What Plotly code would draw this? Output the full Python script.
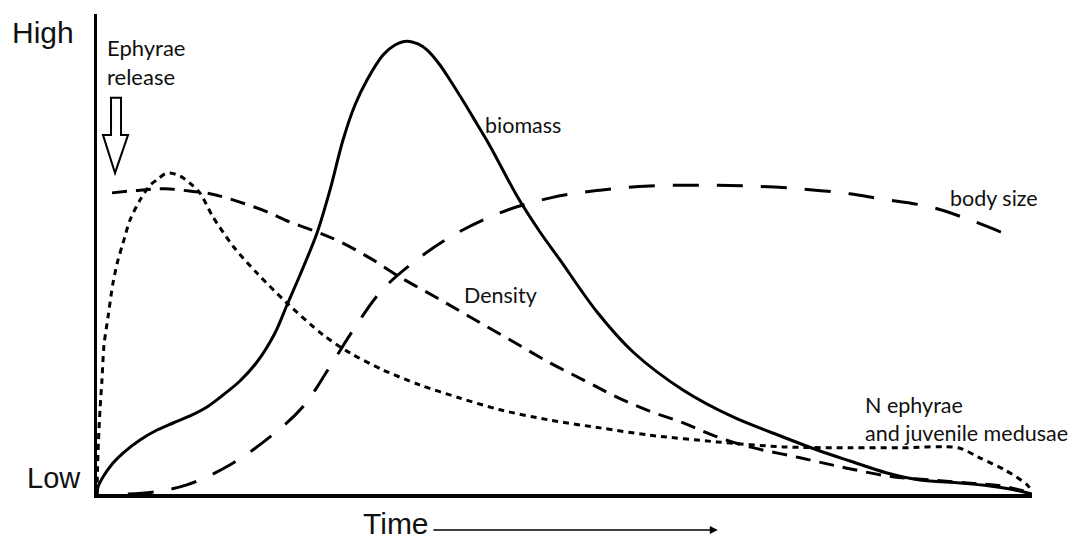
import plotly.graph_objects as go

# Time (0-100) and relative level (0 = Low, 100 = High)
biomass_t = [0, 0.11, 0.64, 1.71, 2.78, 4.6, 6.42, 8.13, 9.95, 11.76, 13.48, 15.29, 17.11, 19.04, 20.32, 21.71,
             23.53, 24.92, 26.31, 27.59, 28.88, 30.59, 31.87, 33.16, 34.33, 35.29, 36.68, 37.75, 39.36, 40.64,
             42.03, 44.92, 47.38, 49.52, 53.48, 57.33, 62.67, 68.02, 73.37, 77.33, 80.53, 84.49, 88.02, 92.3,
             95.51, 97.65, 100]
biomass_v = [0, 1.55, 3.75, 6.85, 9.05, 11.93, 14.13, 15.68, 17.23, 19.21, 21.86, 24.96, 29.15, 35.56, 41.74,
             48.37, 57.64, 67.14, 78.18, 85.91, 91.43, 96.95, 99.16, 100.0, 99.38, 98.06, 94.74, 91.43, 86.13,
             81.71, 76.86, 65.81, 57.86, 51.68, 40.19, 31.36, 22.97, 17.01, 12.59, 9.5, 7.29, 4.64, 3.09, 2.43,
             1.77, 1.1, 0]

bodysize_t = [3.3, 5.9, 9.6, 14.2, 18.5, 22.0, 24.9, 27.4, 30.3, 33.5, 37.8, 43.1, 48.5, 53.8, 59.1, 64.5,
              69.8, 75.2, 80.5, 83.7, 89.1, 93.4, 97.9]
bodysize_v = [0, 0.4, 2.0, 6.4, 12.6, 19.2, 28.1, 36.2, 44.6, 50.6, 56.8, 62.1, 65.4, 67.1, 68.0, 68.2,
              68.0, 67.4, 66.3, 65.2, 63.4, 60.5, 56.8]

density_t = [1.6, 4.6, 7.3, 9.9, 12.1, 13.5, 15.8, 18.2, 20.6, 23.5, 26.0, 29.2, 32.4, 36.2, 39.9, 44.2,
             48.5, 52.2, 55.6, 59.1, 62.7, 66.1, 69.8, 75.2, 80.2, 85.1, 89.1, 93.4, 96.6, 98.7, 100]
density_v = [66.5, 67.1, 67.4, 66.9, 66.3, 65.6, 64.1, 62.3, 60.1, 57.9, 55.7, 52.1, 47.9, 43.5, 39.1, 34.0,
             28.9, 25.0, 21.4, 18.3, 15.7, 12.8, 10.4, 8.0, 5.7, 3.8, 3.1, 2.4, 1.8, 0.9, 0]

ephyrae_t = [0, 0.05, 0.16, 0.32, 0.53, 0.75, 1.18, 1.71, 2.25, 2.78, 3.53, 4.6, 5.67, 6.42, 7.27, 7.81, 8.9,
             9.9, 11.0, 12.4, 14.6, 17.1, 20.3, 24.2, 27.1, 30.6, 34.5, 38.8, 43.1, 48.5, 53.8, 59.1, 66.3,
             73.4, 80.5, 85.9, 92.1, 94.4, 97.1, 99.5, 100]
ephyrae_v = [0, 5.3, 11.9, 18.6, 25.2, 32.9, 39.1, 46.6, 51.7, 55.4, 60.5, 64.9, 68.2, 69.4, 70.7, 70.9, 70.2,
             68.7, 66.5, 61.2, 54.6, 48.8, 42.2, 35.1, 31.1, 27.4, 24.1, 21.2, 18.6, 16.3, 14.6, 13.0, 11.5,
             10.4, 10.2, 10.2, 10.2, 8.0, 5.3, 2.0, 0.4]

axis_labels = ["High", "Low", "Time"]
curve_labels = ["biomass", "body size", "Density", "N ephyrae<br>and juvenile medusae"]

fig = go.Figure()
fig.add_trace(go.Scatter(x=biomass_t, y=biomass_v, mode="lines",
                         line=dict(color="black", width=3, shape="spline", smoothing=0.9)))
fig.add_trace(go.Scatter(x=bodysize_t, y=bodysize_v, mode="lines",
                         line=dict(color="black", width=3, shape="spline", dash="26px,18px")))
fig.add_trace(go.Scatter(x=density_t, y=density_v, mode="lines",
                         line=dict(color="black", width=3, shape="spline", dash="15px,9px")))
fig.add_trace(go.Scatter(x=ephyrae_t, y=ephyrae_v, mode="lines",
                         line=dict(color="black", width=3, shape="spline", smoothing=0.8, dash="6px,5px")))

# hollow "Ephyrae release" arrow
fig.add_shape(type="path", xref="x", yref="y",
              path="M 1.5 87.5 L 2.57 87.5 L 2.57 79.3 L 3.32 79.3 L 1.93 70.9 L 0.64 79.3 L 1.5 79.3 Z",
              line=dict(color="black", width=2), fillcolor="white")

cal = "Lato, Carlito, Calibri, sans-serif"
ari = "Liberation Sans, Arial, sans-serif"
ann = []
ann.append(dict(x=-0.093, y=0.962, xref="paper", yref="paper", text=axis_labels[0],
                font=dict(family=ari, size=30, color="#111"), xanchor="left", yanchor="middle", showarrow=False))
ann.append(dict(x=-0.077, y=0.033, xref="paper", yref="paper", text=axis_labels[1],
                font=dict(family=ari, size=29, color="#111"), xanchor="left", yanchor="middle", showarrow=False))
ann.append(dict(x=0.282, y=-0.1, xref="paper", yref="paper", text=axis_labels[2],
                font=dict(family=ari, size=30, color="#111"), xanchor="left", yanchor="bottom", showarrow=False))
ann.append(dict(x=0.664, y=-0.075, xref="paper", yref="paper", ax=-286, ay=0, text="", showarrow=True,
                arrowhead=2, arrowsize=1, arrowwidth=1.6, arrowcolor="black"))
ann.append(dict(x=0.9, y=98.7, text="Ephyrae", font=dict(family=cal, size=22, color="#111"),
                xanchor="left", yanchor="middle", showarrow=False))
ann.append(dict(x=0.9, y=92.1, text="release", font=dict(family=cal, size=22, color="#111"),
                xanchor="left", yanchor="middle", showarrow=False))
pos = [(41.3, 81.5), (91.0, 65.4), (39.0, 44.0), (81.9, 16.6)]
for (x, y), t in zip(pos, curve_labels):
    ann.append(dict(x=x, y=y, text=t, font=dict(family=cal, size=21.5, color="#111"), align="left",
                    xanchor="left", yanchor="middle", showarrow=False))

# the page body adds an 8 px offset, so the figure is sized to fit the window
fig.update_layout(
    width=1072, height=531, margin=dict(l=89, r=48, t=6, b=45),
    paper_bgcolor="white", plot_bgcolor="white", showlegend=False,
    annotations=ann,
    xaxis=dict(range=[0, 100], showgrid=False, zeroline=False, showticklabels=False, ticks="",
               showline=True, linecolor="black", linewidth=4),
    yaxis=dict(range=[0, 106], showgrid=False, zeroline=False, showticklabels=False, ticks="",
               showline=True, linecolor="black", linewidth=3),
)
fig.write_html("out.html")
